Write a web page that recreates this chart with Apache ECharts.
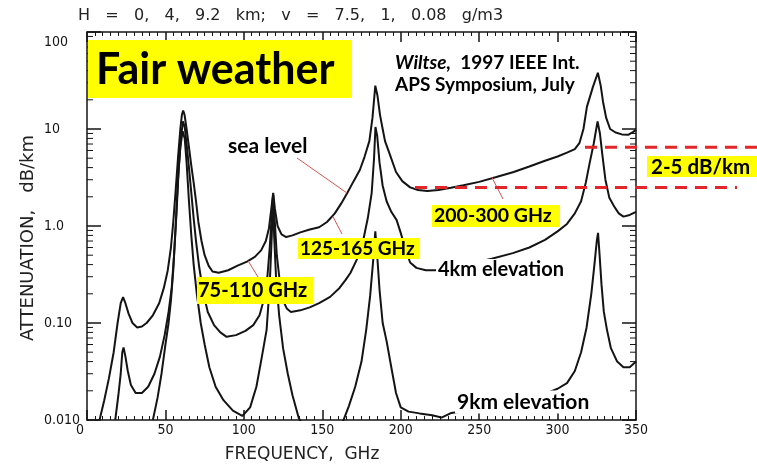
<!DOCTYPE html>
<html><head><meta charset="utf-8">
<script src="https://cdn.jsdelivr.net/npm/echarts@6/dist/echarts.min.js"></script>
<style>html,body{margin:0;padding:0;background:#fff}#c{width:757px;height:466px}</style>
</head><body><div id="c"></div>
<script>
// ---------------- data ----------------
const xTicks = [0, 50, 100, 150, 200, 250, 300, 350];
const yTickLabels = { '-2': '0.010', '-1': '0.10', '0': '1.0', '1': '10', '2': '100' };
const minorTickValues = [
  0.02,0.03,0.04,0.05,0.06,0.07,0.08,0.09,
  0.2,0.3,0.4,0.5,0.6,0.7,0.8,0.9,
  2,3,4,5,6,7,8,9,
  20,30,40,50,60,70,80,90
];
// [frequency GHz, attenuation dB/km]
const seaLevel = [
  [8,0.01],[11,0.016],[14,0.027],[17,0.05],[19.5,0.1],[21.5,0.16],[23,0.185],[24.5,0.16],[26.5,0.125],
  [29,0.1],[32,0.09],[35,0.092],[38,0.1],[42,0.12],[46,0.16],[49,0.23],[51.5,0.35],[53.5,0.6],[55,1.1],
  [56.5,2.3],[58,5],[59.5,10],[60.5,14],[61.3,15.5],[62.2,14],[63.5,10],[65,6.5],[66.5,4.2],[68,2.8],
  [69.5,1.8],[71,1.1],[73,0.7],[75,0.5],[77.5,0.39],[80,0.34],[84,0.33],[90,0.35],[96,0.39],[102,0.43],
  [107,0.48],[111,0.56],[114,0.7],[116,0.95],[117.5,1.5],[118.7,2.2],[119.8,1.5],[121.5,1.0],[124,0.82],
  [127,0.77],[131,0.8],[136,0.86],[142,0.92],[148,0.97],[153,1.1],[158,1.35],[162,1.7],[166,2.2],[170,2.9],
  [174,3.8],[177,5.2],[180,7.5],[182,13],[183.8,28],[185.2,22],[186.8,14],[188.5,10],[190,7.5],[193,5.5],
  [197,3.6],[201,2.9],[206,2.5],[211,2.35],[217,2.29],[224,2.35],[232,2.48],[240,2.63],[250,2.85],
  [261,3.2],[272,3.6],[282,4.1],[292,4.7],[300,5.2],[306,5.7],[311,6.2],[314,7.2],[316.5,10],[318.7,16.9],
  [322.5,27],[325.7,38],[327.5,28],[329,19],[331,13],[333.5,10],[337,9.2],[341,8.8],[345,8.7],[348,9.3],[350,9.8]
];
const elev4km = [
  [18,0.01],[20,0.018],[21.5,0.03],[22.5,0.05],[23.3,0.056],[24.5,0.045],[26,0.032],[28,0.023],[31,0.019],
  [35,0.019],[39,0.022],[43,0.03],[46.5,0.045],[49.5,0.075],[52,0.13],[54,0.23],[55.5,0.5],[57,1.3],
  [58.5,4],[60,8.5],[61.2,12],[62.3,10.5],[63.5,7],[65,4],[66.5,2.2],[68,1.2],[69.5,0.7],[71.5,0.38],
  [74,0.21],[77,0.13],[81,0.095],[85,0.08],[89,0.072],[95,0.075],[101,0.083],[106,0.095],[110,0.12],
  [113,0.18],[115,0.3],[116.5,0.6],[117.8,1.3],[118.7,2.1],[119.6,1.2],[121,0.5],[123,0.26],[125,0.17],
  [127.5,0.14],[130,0.13],[136,0.135],[142,0.145],[148,0.16],[155,0.186],[161,0.23],[165,0.28],[168,0.33],
  [172,0.45],[176,0.7],[179,1.2],[181.5,2.2],[183,5],[183.9,10.5],[185,8.5],[186.5,4.5],[188.5,2.6],
  [191,1.8],[194,1.4],[197.4,1.15],[200,0.85],[203,0.58],[206,0.42],[210,0.37],[216,0.35],[222,0.35],
  [232,0.37],[245,0.41],[258,0.46],[271.5,0.525],[282,0.6],[292,0.72],[300,0.88],[306,1.05],[311,1.35],
  [315,1.8],[318,2.8],[320.5,4.5],[323,7],[325.5,12],[327,9],[328.5,5.5],[330.5,3],[333,1.95],[336,1.6],
  [339,1.35],[342,1.25],[346,1.3],[350,1.4]
];
const elev9km = [
  [42,0.01],[45,0.017],[47.5,0.03],[50,0.06],[52,0.1],[53.5,0.17],[55,0.35],[56.5,1.0],[58,3],[59.5,6.5],
  [61,9.5],[62.3,8],[63.5,4.5],[65,1.8],[66.5,0.8],[68,0.4],[70,0.2],[72.5,0.1],[75,0.06],[78,0.035],
  [82,0.022],[87,0.016],[93,0.0125],[99,0.011],[104,0.0135],[108,0.022],[111.5,0.045],[114.5,0.085],
  [116.5,0.25],[117.8,0.8],[118.5,2.0],[119.3,0.8],[120.5,0.3],[122.5,0.12],[125,0.055],[128,0.03],
  [131,0.018],[135,0.0105],[140,0.0075],[150,0.006],[158,0.0068],[163,0.0095],[167,0.014],[171,0.022],
  [175,0.04],[178,0.085],[180.5,0.19],[182.5,0.45],[183.8,0.88],[185,0.5],[186.5,0.22],[188.5,0.1],
  [191,0.065],[194,0.035],[197,0.019],[200,0.0135],[205,0.0122],[212,0.0117],[220,0.0112],[226,0.0106],
  [232,0.0118],[245,0.0125],[260,0.014],[275,0.016],[290,0.018],[300,0.021],[306,0.024],[311,0.032],
  [315,0.05],[318.5,0.09],[321.5,0.2],[323.5,0.4],[325,0.7],[325.8,0.85],[326.8,0.5],[328,0.25],
  [329.5,0.13],[331.5,0.085],[334,0.055],[338,0.04],[342,0.035],[346,0.035],[350,0.04]
];
const bandLevels = [2.5, 6.5];          // red dashed guide levels, dB/km
const leaderTargets = [[165.7, 2.19], [156.8, 1.25], [102.6, 0.44], [258, 3.2]]; // points on sea-level curve

// ---------------- chart ----------------
const chart = echarts.init(document.getElementById('c'));
const ink = '#141414';
const tickFont = "'DejaVu Sans Condensed','Liberation Sans Narrow','DejaVu Sans',sans-serif";
const calib = "Lato,'Open Sans',sans-serif";

function xAxisCfg(pos, labels) {
  return {
    type: 'value', min: xTicks[0], max: xTicks[xTicks.length - 1], interval: 50, position: pos,
    axisLine: { show: true, onZero: false, lineStyle: { color: ink, width: 1.5 } },
    axisTick: { show: true, inside: true, length: 10, lineStyle: { color: ink, width: 1.5 } },
    minorTick: { show: true, splitNumber: 10, length: 4, lineStyle: { color: ink, width: 1 } },
    splitLine: { show: false },
    axisLabel: labels ? {
      margin: 3, color: ink, fontSize: 14, fontFamily: tickFont,
      formatter: v => v === 0 ? '{z|0}' : String(v),
      rich: { z: { padding: [0, 14, 0, 0], fontSize: 14, fontFamily: tickFont, color: ink } }
    } : { show: false }
  };
}
function yAxisCfg(pos, labels) {
  return {
    type: 'log', logBase: 10, min: 0.01, max: 100, position: pos,
    axisLine: { show: true, onZero: false, lineStyle: { color: ink, width: 1.5 } },
    axisTick: { show: true, inside: true, length: 14, lineStyle: { color: ink, width: 1.5 } },
    splitLine: { show: false },
    axisLabel: labels ? {
      margin: 43, align: 'left', color: ink, fontSize: 14, fontFamily: tickFont,
      formatter: v => {
        const k = String(Math.round(Math.log10(v)));
        return k === '2' ? '{t|' + yTickLabels[k] + '}' : yTickLabels[k];
      },
      rich: { t: { padding: [20, 0, 0, 0], fontSize: 14, fontFamily: tickFont, color: ink } }
    } : { show: false }
  };
}
const lineStyle = { color: ink, width: 2 };
function curve(name, data) {
  return { name, type: 'line', data, showSymbol: false, symbol: 'none', clip: true,
    lineStyle, itemStyle: { color: ink }, z: 3, silent: true };
}

chart.setOption({
  animation: false,
  grid: { left: 87, right: 121, top: 32, bottom: 46 },
  xAxis: [xAxisCfg('bottom', true), xAxisCfg('top', false)],
  yAxis: [yAxisCfg('left', true), yAxisCfg('right', false)],
  series: [
    curve('sea level', seaLevel),
    curve('4km elevation', elev4km),
    curve('9km elevation', elev9km),
    {
      type: 'custom', data: minorTickValues.map(v => [0, v]), silent: true, clip: false, z: 4,
      renderItem: (params, api) => {
        const v = api.value(1);
        const l = api.coord([0, v]);
        const r = api.coord([350, v]);
        return { type: 'group', children: [
          { type: 'line', shape: { x1: l[0], y1: l[1], x2: l[0] + 6, y2: l[1] }, style: { stroke: ink, lineWidth: 1 } },
          { type: 'line', shape: { x1: r[0], y1: r[1], x2: r[0] - 6, y2: r[1] }, style: { stroke: ink, lineWidth: 1 } }
        ] };
      }
    }
  ]
});

const toPx = p => chart.convertToPixel({ gridIndex: 0 }, p);
const yellow = '#ffff00';
const red = '#e3262a';
const leaderColor = '#d9534f';
const g = [];
function txt(x, y, text, opt) {
  g.push(Object.assign({ type: 'text', x, y, z: 100,
    style: Object.assign({ text, fill: '#000', align: 'left', verticalAlign: 'middle' }, opt || {}) }));
}
function box(x, y, w, h) {
  g.push({ type: 'rect', z: 90, shape: { x, y, width: w, height: h }, style: { fill: yellow } });
}
// title & axis names
txt(78, 16, 'H   =   0,   4,   9.2   km;   v   =   7.5,   1,   0.08   g/m3',
  { font: "16px 'DejaVu Sans', sans-serif", fill: '#222' });
g.push({ type: 'text', x: 28, y: 238, rotation: Math.PI / 2, z: 100,
  style: { text: 'ATTENUATION,   dB/km', font: "18px 'DejaVu Sans', sans-serif", fill: '#222', align: 'center', verticalAlign: 'middle' } });
txt(302, 455, 'FREQUENCY,  GHz', { font: "17px 'DejaVu Sans', sans-serif", fill: '#222', align: 'center' });

// Fair weather
box(88, 40, 264, 58);
txt(96, 70, 'Fair weather', { font: "bold 43px " + calib });
// citation
g.push({ type: 'text', x: 395, y: 63, z: 100, style: {
  text: '{i|Wiltse,}  1997 IEEE Int.', font: "bold 19px " + calib, fill: '#000', verticalAlign: 'middle',
  rich: { i: { font: "italic bold 19px " + calib, fill: '#000' } } } });
txt(395, 85, 'APS Symposium, July', { font: "bold 19px " + calib });

// labels
txt(228, 146, 'sea level', { font: "bold 21px " + calib });
txt(436, 270, '4km elevation', { font: "bold 20px " + calib, backgroundColor: '#fff', padding: [1, 2, 1, 2] });
txt(455, 402, '9km elevation', { font: "bold 21px " + calib, backgroundColor: '#fff', padding: [1, 2, 1, 2] });

box(298, 238, 122, 21); txt(300, 249, '125-165 GHz', { font: "bold 19px " + calib });
box(197, 277, 116, 27); txt(198, 291, '75-110 GHz', { font: "bold 20px " + calib });
box(432, 205, 128, 22); txt(434, 216, '200-300 GHz', { font: "bold 19.5px " + calib });
box(647, 156, 110, 21); txt(651, 167, '2-5 dB/km', { font: "bold 20.5px " + calib });

// leader lines (curve point -> label)
const leaderEnds = [[297, 158], [342, 234], [258, 277], [503, 199]];
leaderTargets.forEach((t, i) => {
  const p = toPx(t);
  g.push({ type: 'line', z: 95, shape: { x1: leaderEnds[i][0], y1: leaderEnds[i][1], x2: p[0], y2: p[1] },
    style: { stroke: leaderColor, lineWidth: 1 } });
});

// dashed guide lines
const yLow = toPx([0, bandLevels[0]])[1];
const yHigh = toPx([0, bandLevels[1]])[1];
g.push({ type: 'line', z: 96, shape: { x1: 415, y1: yLow, x2: 737, y2: yLow }, style: { stroke: red, lineWidth: 3, lineDash: [12, 8] } });
g.push({ type: 'line', z: 96, shape: { x1: 585, y1: yHigh, x2: 757, y2: yHigh }, style: { stroke: red, lineWidth: 3, lineDash: [12, 8] } });

chart.setOption({ graphic: g });
</script>
</body></html>
